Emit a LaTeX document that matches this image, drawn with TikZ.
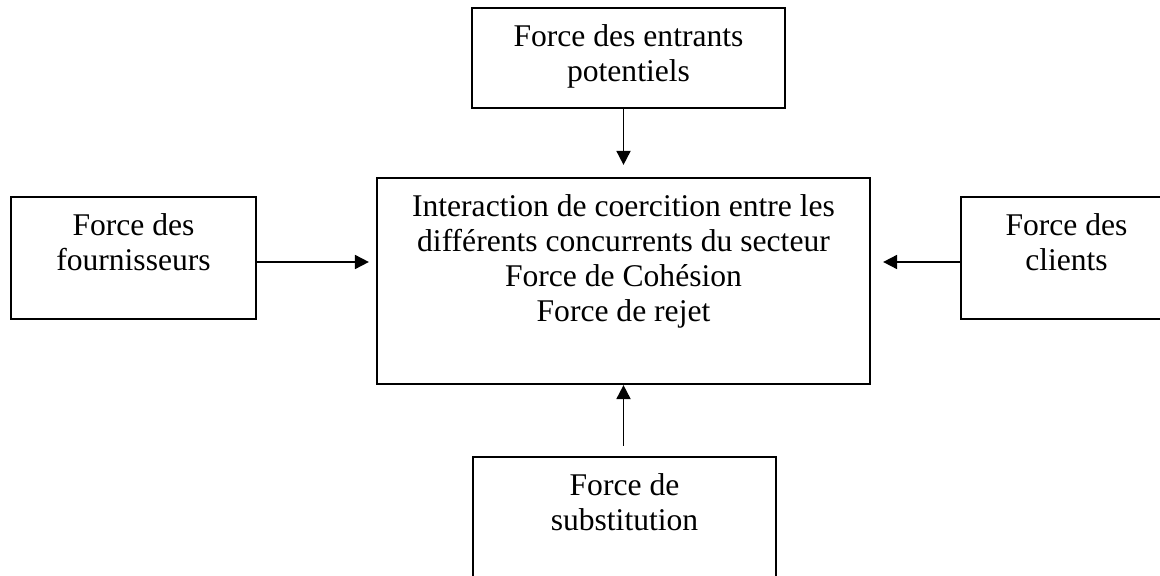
\documentclass[tikz,border=0pt]{standalone}
\usepackage{fontspec}
\setmainfont{Liberation Serif}
\usetikzlibrary{arrows.meta}

\begin{document}
\begin{tikzpicture}[
	x=0.5pt, y=-0.5pt,
	forcebox/.style={rectangle, draw=black, line width=1.1pt, inner sep=0pt},
	boxtext/.style={anchor=north, align=center, inner sep=0pt, yshift=-8.7pt, font=\fontsize{15.8}{17.5}\selectfont},
	flow/.style={-{Triangle[length=7pt, width=7pt]}, line width=0.9pt},
	]
	
	\useasboundingbox (0,0) rectangle (1160,576);
	
	%Nodes
	\node[forcebox, minimum width=246.5pt, minimum height=103pt, label={[boxtext]north:Interaction de coercition entre les\\différents concurrents du secteur\\Force de Cohésion\\Force de rejet}] (secteur) at (623.5,281) {};
	\node[forcebox, minimum width=156.5pt, minimum height=50pt, label={[boxtext]north:Force des entrants\\potentiels}] (entrants) at (628.5,58) {};
	\node[forcebox, minimum width=122.5pt, minimum height=61pt, label={[boxtext]north:Force des\\fournisseurs}] (fournisseurs) at (133.5,258) {};
	\node[forcebox, minimum width=105.5pt, minimum height=61pt, label={[boxtext]north:Force des\\clients}] (clients) at (1066.5,258) {};
	\node[forcebox, minimum width=151.5pt, minimum height=62.5pt, label={[boxtext]north:Force de\\substitution}] (substitution) at (624.5,519.5) {};
	
	%Lines
	\draw[flow, shorten >=6pt] (entrants.south -| secteur.north) -- (secteur.north);
	\draw[flow, shorten <=5pt] (substitution.north -| secteur.south) -- (secteur.south);
	\draw[flow, shorten >=3.5pt] ([yshift=-2pt]fournisseurs.east) -- ([yshift=-2pt]fournisseurs.east -| secteur.west);
	\draw[flow, shorten >=6pt] ([yshift=-2pt]clients.west) -- ([yshift=-2pt]clients.west -| secteur.east);
	
\end{tikzpicture}
\end{document}
